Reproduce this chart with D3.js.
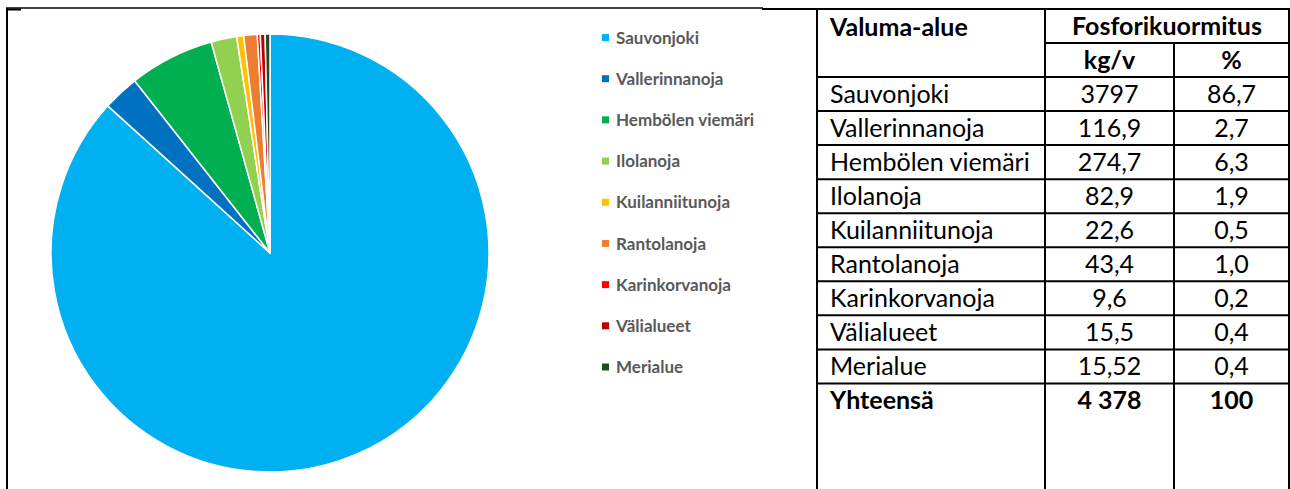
<!DOCTYPE html>
<html lang="fi">
<head>
<meta charset="utf-8">
<script src="https://cdn.jsdelivr.net/npm/d3@7"></script>
<style>
  html, body { margin: 0; padding: 0; background: #fff; }
  svg { display: block; }
</style>
</head>
<body>
<svg id="chart" width="1290" height="489"></svg>
<script>
// Phosphorus load by catchment (kg/year) and share of the total (%)
const categories = ["Sauvonjoki", "Vallerinnanoja", "Hembölen viemäri", "Ilolanoja",
  "Kuilanniitunoja", "Rantolanoja", "Karinkorvanoja", "Välialueet", "Merialue"];
const loads = [3797, 116.9, 274.7, 82.9, 22.6, 43.4, 9.6, 15.5, 15.52];
const shares = [86.7, 2.7, 6.3, 1.9, 0.5, 1.0, 0.2, 0.4, 0.4];
const colors = ["#00b0f0", "#0070c0", "#00b050", "#92d050", "#ffc000",
  "#ed7d31", "#ff0000", "#c00000", "#1e4d24"];
const headerLabels = ["Valuma-alue", "Fosforikuormitus", "kg/v", "%"];
const totalLabel = "Yhteensä";
const totalShare = 100;

const fi = d3.formatLocale({ decimal: ",", thousands: "\u00a0", grouping: [3], currency: ["", " €"] });
const fmtLoad = v => String(v).replace(".", ",");
const fmtShare = fi.format(".1f");
const fmtTotal = fi.format(",.0f");

const svg = d3.select("#chart");
const font = "Lato, 'Open Sans', sans-serif";

// ---------- pie ----------
const cx = 270, cy = 253, radius = 219;
const pie = d3.pie().sort(null).value(d => d.value);
const arc = d3.arc().innerRadius(0).outerRadius(radius);
const slices = pie(categories.map((c, i) => ({ name: c, value: loads[i], color: colors[i] })));

svg.append("g")
  .attr("transform", `translate(${cx},${cy})`)
  .selectAll("path")
  .data(slices)
  .join("path")
  .attr("d", arc)
  .attr("fill", d => d.data.color)
  .attr("stroke", "#fff")
  .attr("stroke-width", 1.5)
  .attr("stroke-linejoin", "round");

// ---------- legend ----------
const legendY = d3.scalePoint().domain(categories).range([37.5, 367]);
const legend = svg.append("g").selectAll("g")
  .data(categories)
  .join("g")
  .attr("transform", d => `translate(602,${legendY(d)})`);
legend.append("rect")
  .attr("x", 0).attr("y", -3.5).attr("width", 7).attr("height", 7)
  .attr("fill", (d, i) => colors[i]);
legend.append("text")
  .attr("x", 14).attr("y", 0).attr("dy", "0.36em")
  .attr("font-family", font).attr("font-weight", 700).attr("font-size", 17)
  .attr("fill", "#595959")
  .text(d => d);

// ---------- frame around the chart ----------
const frame = svg.append("g").attr("stroke", "#000").attr("fill", "none");
frame.append("line").attr("x1", 6).attr("x2", 763).attr("y1", 8).attr("y2", 8).attr("stroke-width", 1.5);
frame.append("line").attr("x1", 7).attr("x2", 7).attr("y1", 8).attr("y2", 489).attr("stroke-width", 2);
frame.append("line").attr("x1", 6).attr("x2", 21).attr("y1", 9.5).attr("y2", 9.5).attr("stroke-width", 2);

// ---------- table ----------
const tx0 = 817, tx1 = 1045, tx2 = 1174, tx3 = 1289;
const rowTop = 9, headRow = 34;
const rowY = d3.scaleLinear().domain([0, 1]).range([77, 77 + 34.05]);
const table = svg.append("g");
const grid = table.append("g").attr("stroke", "#000").attr("stroke-width", 2);

grid.append("line").attr("x1", 762).attr("x2", tx3 + 1).attr("y1", rowTop).attr("y2", rowTop);
grid.append("line").attr("x1", tx1).attr("x2", tx3).attr("y1", rowTop + headRow).attr("y2", rowTop + headRow);
grid.append("line").attr("x1", tx0).attr("x2", tx3).attr("y1", rowY(0)).attr("y2", rowY(0));
grid.selectAll("line.row")
  .data(d3.range(1, categories.length + 1))
  .join("line").attr("class", "row")
  .attr("x1", tx0).attr("x2", tx3)
  .attr("y1", d => rowY(d)).attr("y2", d => rowY(d));
grid.append("line").attr("x1", tx0).attr("x2", tx0).attr("y1", rowTop).attr("y2", 489);
grid.append("line").attr("x1", tx1).attr("x2", tx1).attr("y1", rowTop).attr("y2", 489);
grid.append("line").attr("x1", tx2).attr("x2", tx2).attr("y1", rowTop + headRow).attr("y2", 489);
grid.append("line").attr("x1", tx3).attr("x2", tx3).attr("y1", rowTop).attr("y2", 489);

const txt = (x, y, s, anchor, bold) => table.append("text")
  .attr("x", x).attr("y", y)
  .attr("text-anchor", anchor)
  .attr("font-family", font).attr("font-size", 25)
  .attr("font-weight", bold ? 700 : 400)
  .attr("fill", "#000")
  .text(s);

const c1 = (tx1 + tx2) / 2, c2 = (tx2 + tx3) / 2;
txt(830, rowTop + 27, headerLabels[0], "start", true);
txt((tx1 + tx3) / 2, rowTop + 26, headerLabels[1], "middle", true);
txt(c1, rowTop + headRow + 26, headerLabels[2], "middle", true);
txt(c2, rowTop + headRow + 26, headerLabels[3], "middle", true);

categories.forEach((c, i) => {
  const y = rowY(i) + 26;
  txt(830, y, c, "start", false);
  txt(c1, y, fmtLoad(loads[i]), "middle", false);
  txt(c2, y, fmtShare(shares[i]), "middle", false);
});

const yt = rowY(categories.length) + 26;
txt(830, yt, totalLabel, "start", true);
txt(c1, yt, fmtTotal(Math.round(d3.sum(loads))), "middle", true);
txt(c2, yt, String(totalShare), "middle", true);
</script>
</body>
</html>
